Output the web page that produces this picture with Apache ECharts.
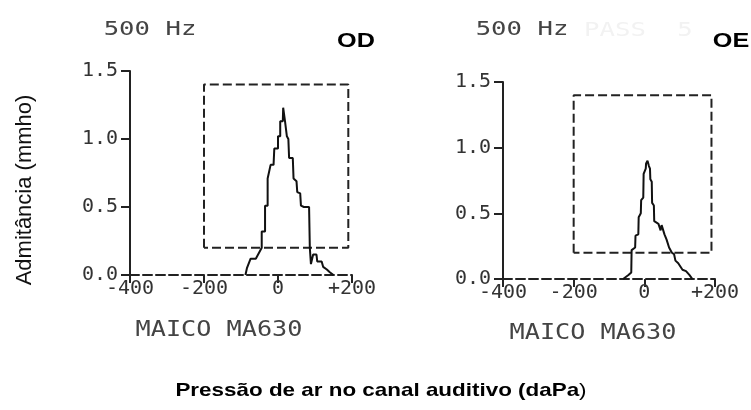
<!DOCTYPE html>
<html><head><meta charset="utf-8">
<script src="https://cdn.jsdelivr.net/npm/echarts@6/dist/echarts.min.js"></script>
<style>html,body{margin:0;padding:0;background:#fff}#c{width:751px;height:410px}</style>
</head><body><div id="c"></div>
<script>
// ---- data ----
const xTicks = [-400, -200, 0, 200];
const yTicks = [0, 0.5, 1.0, 1.5];
const odPressure   = [-88, -84, -74, -60, -44, -44, -35, -35, -28, -28, -20, -12, -10, 0, 0, 6, 6, 13, 14, 18, 19, 23, 24, 28, 30, 40, 42, 50, 52, 60, 62, 70, 84, 86, 89, 93, 95, 104, 106, 118, 122, 132, 140, 150];
const odAdmittance = [0, 0.05, 0.12, 0.12, 0.2, 0.32, 0.32, 0.51, 0.51, 0.71, 0.81, 0.81, 0.93, 0.93, 1.02, 1.02, 1.13, 1.13, 1.23, 1.23, 1.13, 1.13, 1.02, 1.0, 0.86, 0.86, 0.71, 0.69, 0.61, 0.6, 0.51, 0.5, 0.5, 0.2, 0.08, 0.08, 0.15, 0.15, 0.1, 0.1, 0.06, 0.04, 0.02, 0];
const oePressure   = [-60, -45, -37, -36, -26, -25, -17, -16, -10, -9, -3, -2, 4, 5, 9, 13, 16, 17, 21, 22, 27, 28, 40, 46, 49, 54, 57, 63, 70, 78, 84, 88, 96, 108, 118, 128, 136];
const oeAdmittance = [0, 0.03, 0.05, 0.22, 0.24, 0.33, 0.34, 0.47, 0.5, 0.6, 0.62, 0.8, 0.84, 0.88, 0.9, 0.86, 0.84, 0.76, 0.74, 0.58, 0.56, 0.44, 0.42, 0.37, 0.41, 0.4, 0.34, 0.3, 0.24, 0.2, 0.19, 0.14, 0.12, 0.07, 0.06, 0.03, 0];
const boxPressure = [-200, 190];
const boxAdmittance = [0.2, 1.4];
const panelLabels = ['OD', 'OE'];
const freqLabel = '500 Hz';
const deviceLabel = 'MAICO MA630';
const yTitle = 'Admitância (mmho)';
const xTitle = 'Pressão de ar no canal auditivo (daPa';

// ---- helpers ----
const zip = (a, b) => a.map((v, i) => [v, b[i]]);
const boxData = [[boxPressure[0], boxAdmittance[0]], [boxPressure[0], boxAdmittance[1]], [boxPressure[1], boxAdmittance[1]], [boxPressure[1], boxAdmittance[0]], [boxPressure[0], boxAdmittance[0]]];
const mono = 'DejaVu Sans Mono';
const ink = '#333';

function xAxis(gi) {
  return {
    type: 'value', gridIndex: gi, min: xTicks[0], max: xTicks[xTicks.length - 1], interval: 200,
    axisLine: { onZero: false, lineStyle: { color: '#222', width: 2, type: [9, 4] } },
    axisTick: { show: true, length: 8, lineStyle: { color: '#222', width: 2 } },
    axisLabel: { fontFamily: mono, fontSize: 20, color: ink, margin: 4, formatter: v => v > 0 ? '+' + v : String(v) },
    splitLine: { show: false }
  };
}
function yAxis(gi) {
  return {
    type: 'value', gridIndex: gi, min: yTicks[0], max: yTicks[yTicks.length - 1], interval: 0.5,
    axisLine: { show: true, onZero: false, lineStyle: { color: '#222', width: 2 } },
    axisTick: { show: true, length: 9, lineStyle: { color: '#222', width: 2 } },
    axisLabel: { fontFamily: mono, fontSize: 20, color: ink, margin: 12, formatter: v => v.toFixed(1) },
    splitLine: { show: false }
  };
}
function curve(gi, data) {
  return { type: 'line', xAxisIndex: gi, yAxisIndex: gi, data, showSymbol: false, silent: true,
    lineStyle: { color: '#111', width: 2 } };
}
function box(gi) {
  return { type: 'line', xAxisIndex: gi, yAxisIndex: gi, data: boxData, showSymbol: false, silent: true,
    lineStyle: { color: '#222', width: 2, type: [9, 4] } };
}
function txt(x, y, text, font, fill, sx, extra) {
  return Object.assign({ type: 'text', x, y, scaleX: sx || 1, silent: true,
    style: Object.assign({ text, font, fill, textAlign: 'center', textVerticalAlign: 'middle', align: 'center', verticalAlign: 'middle' }, extra || {}) });
}

const chart = echarts.init(document.getElementById('c'), null, { renderer: 'canvas' });
chart.setOption({
  animation: false,
  backgroundColor: '#fff',
  grid: [
    { left: 130, top: 71, width: 222, height: 204 },
    { left: 503, top: 82, width: 212, height: 197 }
  ],
  xAxis: [xAxis(0), xAxis(1)],
  yAxis: [yAxis(0), yAxis(1)],
  series: [
    box(0), curve(0, zip(odPressure, odAdmittance)),
    box(1), curve(1, zip(oePressure, oeAdmittance))
  ],
  graphic: [
    txt(150, 30, freqLabel, '19px ' + mono, '#444', 1.35),
    txt(522, 30, freqLabel, '19px ' + mono, '#444', 1.35),
    txt(615, 31, 'PASS', '19px ' + mono, '#f2f2f2', 1.35),
    txt(685, 31, '5', '19px ' + mono, '#f2f2f2', 1.35),
    txt(356, 41, panelLabels[0], 'bold 21px "Liberation Sans", Arial', '#000', 1.2),
    txt(731, 41, panelLabels[1], 'bold 21px "Liberation Sans", Arial', '#000', 1.2),
    txt(219, 331, deviceLabel, '21px ' + mono, '#444', 1.2),
    txt(593, 334, deviceLabel, '21px ' + mono, '#444', 1.2),
    Object.assign(txt(25, 190, yTitle, '22px "Liberation Sans", Arial', '#111', 1), { rotation: Math.PI / 2 }),
    txt(381, 391, '{b|' + xTitle + '}{n|)}', '19px "Liberation Sans", Arial', '#000', 1.18, {
      rich: { b: { fontWeight: 'bold', fontSize: 19, fontFamily: 'Liberation Sans' }, n: { fontWeight: 'normal', fontSize: 19, fontFamily: 'Liberation Sans' } }
    })
  ]
});
</script>
</body></html>
